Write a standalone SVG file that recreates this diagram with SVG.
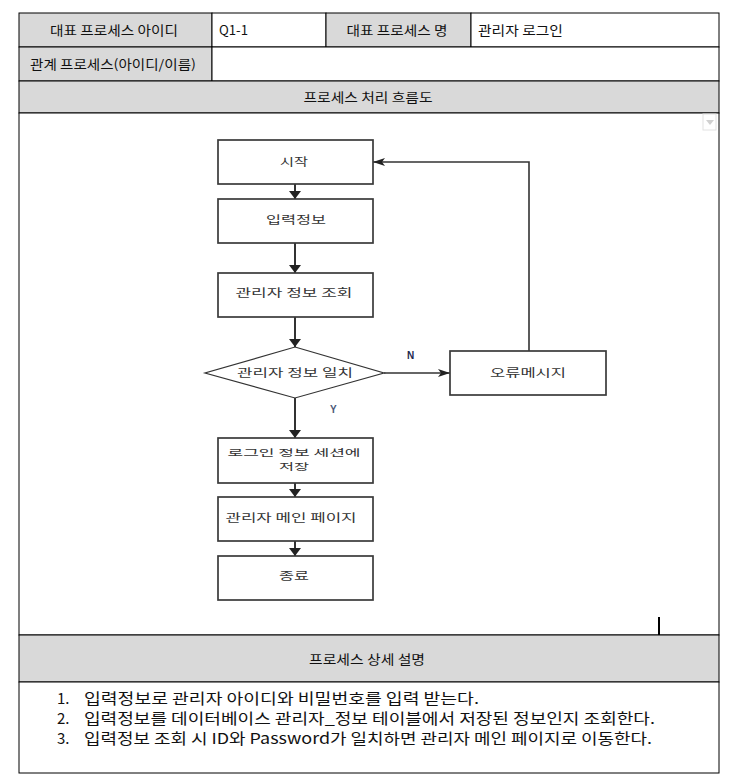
<svg xmlns="http://www.w3.org/2000/svg" width="749" height="782" viewBox="0 0 749 782">
  <style>
    .cell { stroke: #000; stroke-width: 1; }
    .gray { fill: #d9d9d9; }
    .white { fill: #fff; }
    .t { font-family: "Noto Sans CJK KR", "Noto Sans", sans-serif; font-size: 13px; fill: #111; }
    .c { text-anchor: middle; }
    .lst { font-family: "Noto Sans CJK KR", "Noto Sans", sans-serif; font-size: 15px; fill: #111; }
    .box { fill: #fff; stroke: #3a3a3a; stroke-width: 1.7; }
    .ft { font-family: "Noto Sans CJK KR", "Noto Sans", sans-serif; font-size: 11px; fill: #333; text-anchor: middle; }
    .ft2 { font-size: 9.5px; }
    .v { fill: none; stroke: #333; stroke-width: 2; }
    .h { fill: none; stroke: #333; stroke-width: 1.3; }
    .yn { font-family: "Liberation Sans", Arial, sans-serif; font-size: 10px; font-weight: bold; }
  </style>
  <defs>
    <marker id="ah" viewBox="0 0 8 12" refX="8" refY="6" markerWidth="8" markerHeight="12" markerUnits="userSpaceOnUse" orient="auto">
      <path d="M0,0 L8,6 L0,12 z" fill="#222"/>
    </marker>
    <marker id="ahs" viewBox="0 0 12 8" refX="12" refY="4" markerWidth="12" markerHeight="8" markerUnits="userSpaceOnUse" orient="auto">
      <path d="M0,0 L12,4 L0,8 L3,4 z" fill="#222"/>
    </marker>
  </defs>

  <rect width="749" height="782" fill="#fff"/>

  <!-- table -->
  <g id="table">
    <rect class="cell gray" x="19" y="13" width="193" height="34"/>
    <rect class="cell white" x="212" y="13" width="114" height="34"/>
    <rect class="cell gray" x="326" y="13" width="145" height="34"/>
    <rect class="cell white" x="471" y="13" width="248" height="34"/>
    <rect class="cell gray" x="19" y="47" width="193" height="34"/>
    <rect class="cell white" x="212" y="47" width="507" height="34"/>
    <rect class="cell gray" x="19" y="81" width="700" height="32"/>
    <rect class="cell white" x="19" y="113" width="700" height="522"/>
    <rect class="cell gray" x="19" y="635" width="700" height="47"/>
    <rect class="cell white" x="19" y="682" width="700" height="91"/>

    <text class="t c" x="114" y="35" textLength="128" lengthAdjust="spacingAndGlyphs">대표 프로세스 아이디</text>
    <text class="t" x="219" y="35" textLength="29" lengthAdjust="spacingAndGlyphs">Q1-1</text>
    <text class="t c" x="397" y="35" textLength="101" lengthAdjust="spacingAndGlyphs">대표 프로세스 명</text>
    <text class="t" x="478" y="35" textLength="85" lengthAdjust="spacingAndGlyphs">관리자 로그인</text>
    <text class="t c" x="113" y="69" textLength="166" lengthAdjust="spacingAndGlyphs">관계 프로세스(아이디/이름)</text>
    <text class="t c" x="368" y="102" textLength="129" lengthAdjust="spacingAndGlyphs">프로세스 처리 흐름도</text>
    <text class="t c" x="367" y="664" textLength="116" lengthAdjust="spacingAndGlyphs">프로세스 상세 설명</text>

    <!-- small dropdown widget and cursor mark -->
    <rect x="703" y="114" width="13" height="16" fill="#fff" stroke="#e2e2e2" stroke-width="1"/>
    <path d="M706,120 L714,120 L710,125 z" fill="#d0d0d0"/>
    <line x1="659" y1="617" x2="659" y2="635" stroke="#000" stroke-width="2"/>

    <text class="lst" x="57" y="704">1.</text>
    <text class="lst" x="84" y="704" textLength="395" lengthAdjust="spacingAndGlyphs">입력정보로 관리자 아이디와 비밀번호를 입력 받는다.</text>
    <text class="lst" x="57" y="724">2.</text>
    <text class="lst" x="84" y="724" textLength="571" lengthAdjust="spacingAndGlyphs">입력정보를 데이터베이스 관리자_정보 테이블에서 저장된 정보인지 조회한다.</text>
    <text class="lst" x="57" y="744">3.</text>
    <text class="lst" x="84" y="744" textLength="568" lengthAdjust="spacingAndGlyphs">입력정보 조회 시 ID와 Password가 일치하면 관리자 메인 페이지로 이동한다.</text>
  </g>

  <!-- connectors -->
  <g id="connectors">
    <line class="v" x1="295" y1="184" x2="295" y2="199" marker-end="url(#ah)"/>
    <line class="v" x1="295" y1="243" x2="295" y2="273" marker-end="url(#ah)"/>
    <line class="v" x1="295" y1="317" x2="295" y2="347" marker-end="url(#ah)"/>
    <line class="h" x1="384" y1="373" x2="450" y2="373" marker-end="url(#ahs)"/>
    <polyline class="h" points="529,351 529,162 373,162" style="stroke-width:1.6" marker-end="url(#ahs)"/>
    <line class="v" x1="295" y1="398" x2="295" y2="438" marker-end="url(#ah)"/>
    <line class="v" x1="295" y1="483" x2="295" y2="497" marker-end="url(#ah)"/>
    <line class="v" x1="295" y1="541" x2="295" y2="556" marker-end="url(#ah)"/>
    <text class="yn" x="407" y="359" fill="#1c2850">N</text>
    <text class="yn" x="330" y="413" fill="#4a5878">Y</text>
  </g>

  <g id="start">
    <rect class="box" x="218" y="140" width="155" height="44"/>
    <text class="ft" x="294" y="166" textLength="28" lengthAdjust="spacingAndGlyphs">시작</text>
  </g>
  <g id="input">
    <rect class="box" x="218" y="199" width="155" height="44"/>
    <text class="ft" x="296" y="224" textLength="60" lengthAdjust="spacingAndGlyphs">입력정보</text>
  </g>
  <g id="lookup">
    <rect class="box" x="218" y="273" width="155" height="44"/>
    <text class="ft" x="294" y="297" textLength="117" lengthAdjust="spacingAndGlyphs">관리자 정보 조회</text>
  </g>
  <g id="match">
    <polygon points="295,347 384,373 295,398 205,373" fill="#fff" stroke="#333" stroke-width="1.2"/>
    <text class="ft" x="295" y="377" textLength="116" lengthAdjust="spacingAndGlyphs">관리자 정보 일치</text>
  </g>
  <g id="error">
    <rect class="box" x="450" y="351" width="156" height="44"/>
    <text class="ft" x="528" y="377" textLength="76" lengthAdjust="spacingAndGlyphs">오류메시지</text>
  </g>
  <g id="session">
    <rect class="box" x="218" y="438" width="155" height="45"/>
    <text class="ft ft2" x="294" y="456" textLength="133" lengthAdjust="spacingAndGlyphs">로그인 정보 세션에</text>
    <text class="ft ft2" x="294" y="470" textLength="30" lengthAdjust="spacingAndGlyphs">저장</text>
  </g>
  <g id="main">
    <rect class="box" x="218" y="497" width="155" height="44"/>
    <text class="ft" x="291" y="522" textLength="131" lengthAdjust="spacingAndGlyphs">관리자 메인 페이지</text>
  </g>
  <g id="end">
    <rect class="box" x="218" y="556" width="155" height="44"/>
    <text class="ft" x="294" y="580" textLength="30" lengthAdjust="spacingAndGlyphs">종료</text>
  </g>
</svg>
